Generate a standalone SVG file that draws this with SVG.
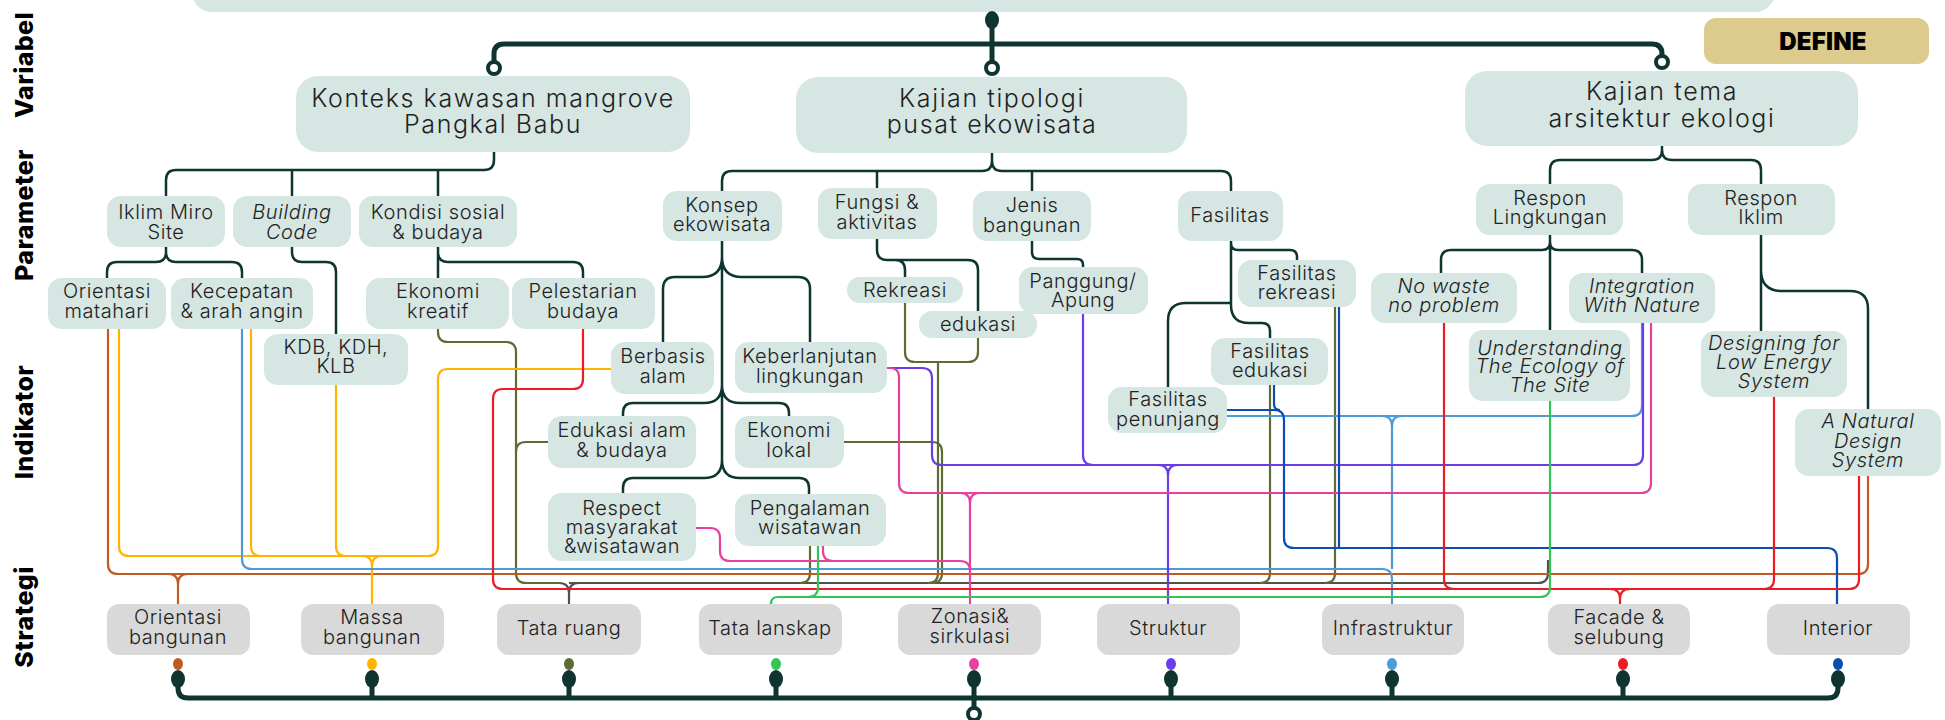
<svg xmlns="http://www.w3.org/2000/svg" width="1945" height="720" viewBox="0 0 1945 720">
<style>
.n{fill:#d5e6e3}
.s{fill:#d9d9d9}
text{font-family:Inter,"Noto Sans","Liberation Sans",sans-serif;font-weight:300;font-size:20px;fill:#222;text-anchor:middle;letter-spacing:0.6px}
.big{font-size:25px;letter-spacing:1.6px}
.it{font-style:italic}
.lbl{font-weight:800;font-size:25px;fill:#000;letter-spacing:0.4px}
.def{font-weight:900;font-size:24px;fill:#000;letter-spacing:0.2px}
.dk{stroke:#0f3531;stroke-width:2.5;fill:none}
.top{stroke:#0f3531;stroke-width:5;fill:none}
.c{stroke-width:2.2;fill:none}
.br{stroke:#bf5a22}.ye{stroke:#ffb400}.lb{stroke:#4d9ad6}.pu{stroke:#6a3de8}.pk{stroke:#e8409e}
.gr{stroke:#34c654}.rd{stroke:#ec1c24}.db{stroke:#0b4db3}.ol{stroke:#5d6b35}.gy{stroke:#505050}
</style>

<!-- side labels -->
<text class="lbl" transform="translate(33,65) rotate(-90)">Variabel</text>
<text class="lbl" transform="translate(33,215) rotate(-90)">Parameter</text>
<text class="lbl" transform="translate(33,422) rotate(-90)">Indikator</text>
<text class="lbl" transform="translate(33,617) rotate(-90)">Strategi</text>

<!-- top box -->
<rect class="n" x="192" y="-30" width="1583" height="42" rx="20"/>

<!-- DEFINE -->
<g id="define"><rect x="1704" y="18" width="225" height="46" rx="12" fill="#dccb8d"/><text class="def" x="1823" y="50">DEFINE</text></g>

<!-- connectors -->
<g id="connectors">
<path class="top" d="M494,61 V54 Q494,44 504,44 H1652 Q1662,44 1662,54 V56 M992,20 V62"/>
<ellipse cx="992" cy="20" rx="7" ry="9" fill="#0f3531"/>
<circle cx="494" cy="68" r="6" fill="#fff" stroke="#0f3531" stroke-width="4"/>
<circle cx="992" cy="68" r="6" fill="#fff" stroke="#0f3531" stroke-width="4"/>
<circle cx="1662" cy="62" r="6" fill="#fff" stroke="#0f3531" stroke-width="4"/>

<path class="dk" d="M494,152 V160 Q494,170 484,170 H176 Q166,170 166,180 V196 M292,170 V196 M438,170 V196"/>
<path class="dk" d="M992,153 V161 Q992,171 982,171 H732 Q722,171 722,181 V191 M992,161 Q992,171 1002,171 H1221 Q1231,171 1231,181 V191 M877,171 V188 M1032,171 V191"/>
<path class="dk" d="M1662,146 V150 Q1662,160 1652,160 H1560 Q1550,160 1550,170 V184 M1662,150 Q1662,160 1672,160 H1751 Q1761,160 1761,170 V184"/>
<path class="dk" d="M166,247 V252 Q166,262 156,262 H117 Q107,262 107,272 V278 M166,252 Q166,262 176,262 H232 Q242,262 242,272 V278"/>
<path class="dk" d="M292,247 V252 Q292,262 302,262 H326 Q336,262 336,272 V334"/>
<path class="dk" d="M438,247 V278 M438,252 Q438,262 448,262 H573 Q583,262 583,272 V278"/>
<path class="dk" d="M722,241 V462 M722,257 Q722,277 702,277 H675 Q663,277 663,289 V342 M722,257 Q722,277 742,277 H798 Q810,277 810,289 V342 M722,385 Q722,403 704,403 H633 Q623,403 623,413 V416 M722,385 Q722,403 740,403 H779 Q789,403 789,413 V416 M722,460 Q722,478 704,478 H633 Q623,478 623,488 V493 M722,460 Q722,478 740,478 H799 Q809,478 809,488 V494"/>
<path class="dk" d="M877,239 V250 Q877,260 887,260 H968 Q978,260 978,270 V311 M895,260 Q905,260 905,270 V277"/>
<path class="dk" d="M1032,241 V252 Q1032,259 1039,259 H1077 Q1083,259 1083,265 V267"/>
<path class="dk" d="M1231,241 V305 Q1231,323 1249,323 H1262 Q1270,323 1270,331 V338 M1231,243 Q1231,250 1238,250 H1290 Q1297,250 1297,257 V260 M1231,303 H1186 Q1168,303 1168,321 V387"/>
<path class="dk" d="M1550,235 V330 M1550,242 Q1550,250 1542,250 H1451 Q1441,250 1441,260 V273 M1550,242 Q1550,250 1558,250 H1632 Q1642,250 1642,260 V273"/>
<path class="dk" d="M1761,235 V331 M1761,270 Q1761,291 1782,291 H1850 Q1868,291 1868,309 V409"/>

<path class="c gy" d="M569,583 H1538 Q1548,583 1548,573 V560 M559,583 Q569,583 569,593 Q569,583 579,583 M569,593 V604"/>
<path class="c ol" d="M438,329 V332 Q438,342 448,342 H506 Q516,342 516,352 V573 Q516,583 526,583 H560 M548,442 H526 Q516,442 516,452 M905,303 V352 Q905,362 915,362 H968 Q978,362 978,352 V338 M938,362 V573 Q938,583 928,583 M844,442 H932 Q942,442 942,452 V573 Q942,583 932,583 M810,546 V573 Q810,583 800,583 M1270,385 V573 Q1270,583 1260,583 M1335,307 V573 Q1335,583 1325,583"/>
<path class="c br" d="M108,329 V564 Q108,574 118,574 H1858 Q1868,574 1868,564 V476 M168,574 Q178,574 178,584 Q178,574 188,574 M178,584 V604"/>
<path class="c ye" d="M119,329 V546 Q119,556 129,556 H428 Q438,556 438,546 V379 Q438,369 448,369 H611 M251,329 V546 Q251,556 261,556 M336,385 V546 Q336,556 346,556 M362,556 Q372,556 372,566 Q372,556 382,556 M372,566 V604"/>
<path class="c lb" d="M242,329 V559 Q242,569 252,569 H1382 Q1392,569 1392,579 V604 M1227,416 H1632 Q1642,416 1642,406 V323 M1382,416 Q1392,416 1392,426 Q1392,416 1402,416 M1392,426 V569"/>
<path class="c pu" d="M887,368 H922 Q932,368 932,378 V455 Q932,465 942,465 H1633 Q1643,465 1643,455 V323 M1083,314 V455 Q1083,465 1093,465 M1158,465 Q1168,465 1168,475 Q1168,465 1178,465 M1168,475 V604"/>
<path class="c pk" d="M887,368 H890 Q899,368 899,377 V483 Q899,493 909,493 H1641 Q1651,493 1651,483 V323 M960,493 Q970,493 970,503 Q970,493 980,493 M970,503 V604 M696,528 H710 Q720,528 720,538 V551 Q720,561 730,561 H960 Q970,561 970,571 M823,546 V551 Q823,561 833,561"/>
<path class="c db" d="M1227,410 H1274 Q1284,410 1284,420 V538 Q1284,548 1294,548 H1827 Q1837,548 1837,558 V604 M1274,385 V404 Q1274,410 1280,410 M1339,307 V548"/>
<path class="c rd" d="M583,329 V379 Q583,389 573,389 H503 Q493,389 493,399 V579 Q493,589 503,589 H1849 Q1859,589 1859,579 V476 M1444,323 V579 Q1444,589 1454,589 M1774,397 V579 Q1774,589 1764,589 M1610,589 Q1620,589 1620,599 Q1620,589 1630,589 M1620,599 V604"/>
<path class="c gr" d="M1550,401 V587 Q1550,597 1540,597 H778 Q771,597 771,604 M818,546 V587 Q818,597 808,597"/>

<path class="top" d="M178,679 V688 Q178,698 188,698 H1828 Q1838,698 1838,688 V679 M372,679 V698 M569,679 V698 M776,679 V698 M974,679 V707 M1171,679 V698 M1392,679 V698 M1623,679 V698"/>
<circle cx="974" cy="714" r="6" fill="#fff" stroke="#0f3531" stroke-width="4"/>
<g fill="#0f3531">
<ellipse cx="178" cy="679" rx="7" ry="9"/><ellipse cx="372" cy="679" rx="7" ry="9"/><ellipse cx="569" cy="679" rx="7" ry="9"/>
<ellipse cx="776" cy="679" rx="7" ry="9"/><ellipse cx="974" cy="679" rx="7" ry="9"/><ellipse cx="1171" cy="679" rx="7" ry="9"/>
<ellipse cx="1392" cy="679" rx="7" ry="9"/><ellipse cx="1623" cy="679" rx="7" ry="9"/><ellipse cx="1838" cy="679" rx="7" ry="9"/>
</g>
<ellipse cx="178" cy="664" rx="5" ry="6" fill="#bf5a22"/>
<ellipse cx="372" cy="664" rx="5" ry="6" fill="#ffb400"/>
<ellipse cx="569" cy="664" rx="5" ry="6" fill="#5d6b35"/>
<ellipse cx="776" cy="664" rx="5" ry="6" fill="#34c654"/>
<ellipse cx="974" cy="664" rx="5" ry="6" fill="#e8409e"/>
<ellipse cx="1171" cy="664" rx="5" ry="6" fill="#6a3de8"/>
<ellipse cx="1392" cy="664" rx="5" ry="6" fill="#4d9ad6"/>
<ellipse cx="1623" cy="664" rx="5" ry="6" fill="#ec1c24"/>
<ellipse cx="1838" cy="664" rx="5" ry="6" fill="#0b4db3"/>
</g>

<!-- variables -->
<g id="konteks"><rect class="n" x="296" y="76" width="394" height="76" rx="22"/><text class="big"><tspan x="493" y="107">Konteks kawasan mangrove</tspan><tspan x="493" y="133">Pangkal Babu</tspan></text></g>
<g id="tipologi"><rect class="n" x="796" y="77" width="391" height="76" rx="22"/><text class="big"><tspan x="992" y="107">Kajian tipologi</tspan><tspan x="992" y="133">pusat ekowisata</tspan></text></g>
<g id="tema"><rect class="n" x="1465" y="71" width="393" height="75" rx="22"/><text class="big"><tspan x="1662" y="100">Kajian tema</tspan><tspan x="1662" y="127">arsitektur ekologi</tspan></text></g>

<!-- parameters -->
<g id="iklim"><rect class="n" x="107" y="196" width="118" height="51" rx="14"/><text><tspan x="166" y="219">Iklim Miro</tspan><tspan x="166" y="239">Site</tspan></text></g>
<g id="building"><rect class="n" x="233" y="196" width="118" height="51" rx="14"/><text class="it"><tspan x="292" y="219">Building</tspan><tspan x="292" y="239">Code</tspan></text></g>
<g id="kondisi"><rect class="n" x="359" y="196" width="158" height="51" rx="14"/><text><tspan x="438" y="219">Kondisi sosial</tspan><tspan x="438" y="239">&amp; budaya</tspan></text></g>
<g id="konsep"><rect class="n" x="663" y="191" width="119" height="50" rx="14"/><text><tspan x="722" y="212">Konsep</tspan><tspan x="722" y="231">ekowisata</tspan></text></g>
<g id="fungsi"><rect class="n" x="818" y="188" width="119" height="51" rx="14"/><text><tspan x="877" y="209">Fungsi &amp;</tspan><tspan x="877" y="229">aktivitas</tspan></text></g>
<g id="jenis"><rect class="n" x="973" y="191" width="118" height="50" rx="14"/><text><tspan x="1032" y="212">Jenis</tspan><tspan x="1032" y="232">bangunan</tspan></text></g>
<g id="fasilitas"><rect class="n" x="1178" y="191" width="105" height="50" rx="14"/><text x="1230" y="222">Fasilitas</text></g>
<g id="respon-lingkungan"><rect class="n" x="1476" y="184" width="147" height="51" rx="14"/><text><tspan x="1550" y="205">Respon</tspan><tspan x="1550" y="224">Lingkungan</tspan></text></g>
<g id="respon-iklim"><rect class="n" x="1688" y="184" width="147" height="51" rx="14"/><text><tspan x="1761" y="205">Respon</tspan><tspan x="1761" y="224">Iklim</tspan></text></g>

<!-- indicators -->
<g id="orientasi-matahari"><rect class="n" x="48" y="278" width="118" height="51" rx="14"/><text><tspan x="107" y="298">Orientasi</tspan><tspan x="107" y="318">matahari</tspan></text></g>
<g id="kecepatan"><rect class="n" x="171" y="278" width="142" height="51" rx="14"/><text><tspan x="242" y="298">Kecepatan</tspan><tspan x="242" y="318">&amp; arah angin</tspan></text></g>
<g id="kdb"><rect class="n" x="264" y="334" width="144" height="51" rx="14"/><text><tspan x="336" y="354">KDB, KDH,</tspan><tspan x="336" y="373">KLB</tspan></text></g>
<g id="ekonomi-kreatif"><rect class="n" x="366" y="278" width="143" height="51" rx="14"/><text><tspan x="438" y="298">Ekonomi</tspan><tspan x="438" y="318">kreatif</tspan></text></g>
<g id="pelestarian"><rect class="n" x="512" y="278" width="143" height="51" rx="14"/><text><tspan x="583" y="298">Pelestarian</tspan><tspan x="583" y="318">budaya</tspan></text></g>
<g id="berbasis"><rect class="n" x="611" y="342" width="103" height="52" rx="14"/><text><tspan x="663" y="363">Berbasis</tspan><tspan x="663" y="383">alam</tspan></text></g>
<g id="keberlanjutan"><rect class="n" x="735" y="342" width="152" height="51" rx="14"/><text><tspan x="810" y="363">Keberlanjutan</tspan><tspan x="810" y="383">lingkungan</tspan></text></g>
<g id="edukasi-alam"><rect class="n" x="548" y="416" width="148" height="52" rx="14"/><text><tspan x="622" y="437">Edukasi alam</tspan><tspan x="622" y="457">&amp; budaya</tspan></text></g>
<g id="ekonomi-lokal"><rect class="n" x="735" y="416" width="109" height="52" rx="14"/><text><tspan x="789" y="437">Ekonomi</tspan><tspan x="789" y="457">lokal</tspan></text></g>
<g id="respect"><rect class="n" x="548" y="493" width="148" height="68" rx="14"/><text><tspan x="622" y="515">Respect</tspan><tspan x="622" y="534">masyarakat</tspan><tspan x="622" y="553">&amp;wisatawan</tspan></text></g>
<g id="pengalaman"><rect class="n" x="735" y="494" width="151" height="52" rx="14"/><text><tspan x="810" y="515">Pengalaman</tspan><tspan x="810" y="534">wisatawan</tspan></text></g>
<g id="rekreasi"><rect class="n" x="847" y="277" width="116" height="26" rx="13"/><text x="905" y="297">Rekreasi</text></g>
<g id="edukasi"><rect class="n" x="919" y="311" width="118" height="27" rx="13"/><text x="978" y="331">edukasi</text></g>
<g id="panggung"><rect class="n" x="1019" y="267" width="129" height="47" rx="14"/><text><tspan x="1083" y="288">Panggung/</tspan><tspan x="1083" y="307">Apung</tspan></text></g>
<g id="fas-rekreasi"><rect class="n" x="1238" y="260" width="118" height="47" rx="14"/><text><tspan x="1297" y="280">Fasilitas</tspan><tspan x="1297" y="299">rekreasi</tspan></text></g>
<g id="fas-edukasi"><rect class="n" x="1211" y="338" width="117" height="47" rx="14"/><text><tspan x="1270" y="358">Fasilitas</tspan><tspan x="1270" y="377">edukasi</tspan></text></g>
<g id="fas-penunjang"><rect class="n" x="1108" y="387" width="119" height="46" rx="14"/><text><tspan x="1168" y="406">Fasilitas</tspan><tspan x="1168" y="426">penunjang</tspan></text></g>
<g id="no-waste"><rect class="n" x="1371" y="273" width="146" height="50" rx="14"/><text class="it"><tspan x="1444" y="293">No waste</tspan><tspan x="1444" y="312">no problem</tspan></text></g>
<g id="integration"><rect class="n" x="1569" y="273" width="146" height="50" rx="14"/><text class="it"><tspan x="1642" y="293">Integration</tspan><tspan x="1642" y="312">With Nature</tspan></text></g>
<g id="understanding"><rect class="n" x="1469" y="330" width="161" height="71" rx="14"/><text class="it"><tspan x="1550" y="355">Understanding</tspan><tspan x="1550" y="373">The Ecology of</tspan><tspan x="1550" y="392">The Site</tspan></text></g>
<g id="designing"><rect class="n" x="1701" y="331" width="146" height="66" rx="14"/><text class="it"><tspan x="1774" y="350">Designing for</tspan><tspan x="1774" y="369">Low Energy</tspan><tspan x="1774" y="388">System</tspan></text></g>
<g id="natural"><rect class="n" x="1795" y="409" width="146" height="67" rx="14"/><text class="it"><tspan x="1868" y="428">A Natural</tspan><tspan x="1868" y="448">Design</tspan><tspan x="1868" y="467">System</tspan></text></g>

<!-- strategies -->
<g id="s-orientasi"><rect class="s" x="107" y="604" width="143" height="51" rx="12"/><text><tspan x="178" y="624">Orientasi</tspan><tspan x="178" y="644">bangunan</tspan></text></g>
<g id="s-massa"><rect class="s" x="301" y="604" width="143" height="51" rx="12"/><text><tspan x="372" y="624">Massa</tspan><tspan x="372" y="644">bangunan</tspan></text></g>
<g id="s-tataruang"><rect class="s" x="497" y="604" width="144" height="51" rx="12"/><text x="569" y="635">Tata ruang</text></g>
<g id="s-lanskap"><rect class="s" x="699" y="604" width="143" height="51" rx="12"/><text x="770" y="635">Tata lanskap</text></g>
<g id="s-zonasi"><rect class="s" x="898" y="604" width="143" height="51" rx="12"/><text><tspan x="970" y="623">Zonasi&amp;</tspan><tspan x="970" y="643">sirkulasi</tspan></text></g>
<g id="s-struktur"><rect class="s" x="1097" y="604" width="143" height="51" rx="12"/><text x="1168" y="635">Struktur</text></g>
<g id="s-infra"><rect class="s" x="1322" y="604" width="142" height="51" rx="12"/><text x="1393" y="635">Infrastruktur</text></g>
<g id="s-facade"><rect class="s" x="1548" y="604" width="142" height="51" rx="12"/><text><tspan x="1619" y="624">Facade &amp;</tspan><tspan x="1619" y="644">selubung</tspan></text></g>
<g id="s-interior"><rect class="s" x="1767" y="604" width="143" height="51" rx="12"/><text x="1838" y="635">Interior</text></g>
</svg>
